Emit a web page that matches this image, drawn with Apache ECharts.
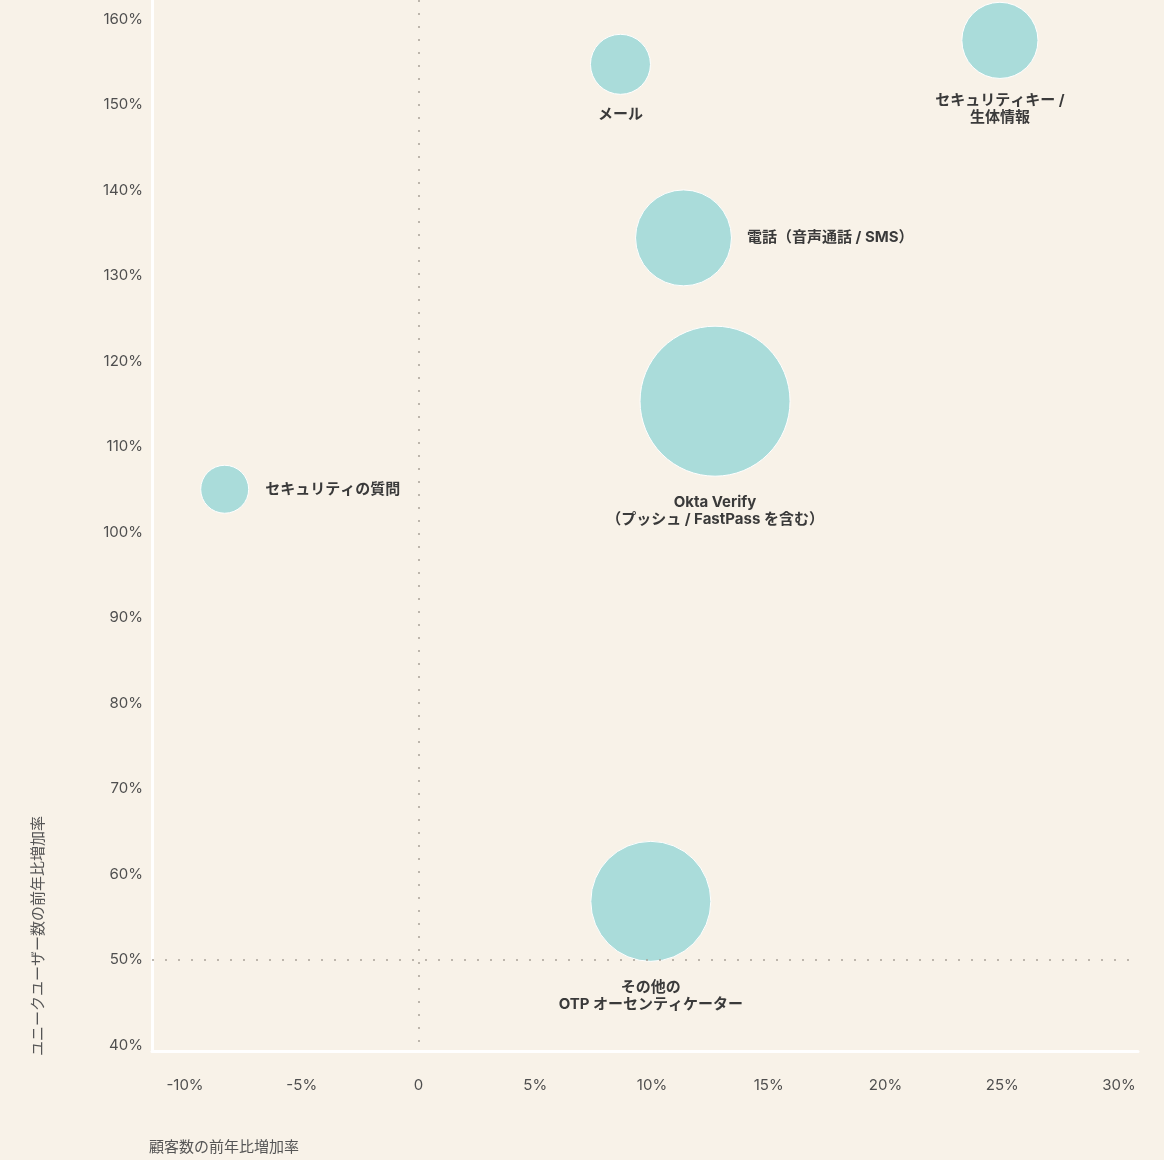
<!DOCTYPE html>
<html>
<head>
<meta charset="utf-8">
<script src="https://cdn.jsdelivr.net/npm/echarts@6/dist/echarts.min.js"></script>
<style>
html,body{margin:0;padding:0;background:#F8F2E8;}
#chart{width:1164px;height:1160px;}
</style>
</head>
<body>
<div id="chart"></div>
<script>
// ---- data ----
const names = [
  'セキュリティの質問',
  'メール',
  'セキュリティキー /\n生体情報',
  '電話（音声通話 / SMS）',
  'Okta Verify\n（プッシュ / FastPass を含む）',
  'その他の\nOTP オーセンティケーター'
];
const customerGrowth = [-8.3, 8.65, 24.9, 11.35, 12.7, 9.95];   // x, %
const userGrowth = [105.0, 154.7, 157.5, 134.4, 115.3, 56.8];    // y, %
const bubbleSize = [23, 36, 58, 92, 225, 144];                   // relative area
const xTicks = [-10, -5, 0, 5, 10, 15, 20, 25, 30];
const yTicks = [40, 50, 60, 70, 80, 90, 100, 110, 120, 130, 140, 150, 160];

const labelPlacement = {
  'セキュリティの質問': {position: 'right', distance: 16, align: 'left', verticalAlign: 'middle', offset: [0, -5]},
  'メール': {position: 'bottom', distance: 11},
  'セキュリティキー /\n生体情報': {position: 'bottom', distance: 13, offset: [4, 0]},
  '電話（音声通話 / SMS）': {position: 'right', distance: 15, align: 'left', verticalAlign: 'middle', offset: [0, -4]},
  'Okta Verify\n（プッシュ / FastPass を含む）': {position: 'bottom', distance: 17, offset: [3, 0]},
  'その他の\nOTP オーセンティケーター': {position: 'bottom', distance: 17, offset: [2, 0]}
};

const seriesData = names.map((n, i) => ({
  name: n,
  value: [customerGrowth[i], userGrowth[i], bubbleSize[i]],
  label: labelPlacement[n]
}));

const FONT = "Inter, 'Noto Sans CJK JP', sans-serif";
const chart = echarts.init(document.getElementById('chart'));
chart.setOption({
  backgroundColor: '#F8F2E8',
  animation: false,
  grid: {left: 152, right: 26, top: 0, bottom: 109, containLabel: false},
  xAxis: {
    type: 'value',
    min: -11.413, max: 30.814,
    splitLine: {show: false},
    axisTick: {show: false},
    axisLine: {show: true, lineStyle: {color: '#ffffff', width: 3}},
    axisLabel: {
      customValues: xTicks,
      margin: 27,
      color: '#4f4f4f',
      fontSize: 15,
      fontFamily: FONT,
      formatter: v => (v === 0 ? '0' : v + '%')
    }
  },
  yAxis: {
    type: 'value',
    min: 39.298, max: 162.222,
    splitLine: {show: false},
    axisTick: {show: false},
    axisLine: {show: true, onZero: false, lineStyle: {color: '#ffffff', width: 3}},
    axisLabel: {
      customValues: yTicks,
      margin: 9,
      color: '#4f4f4f',
      fontSize: 15,
      fontFamily: FONT,
      formatter: v => v + '%'
    }
  },
  graphic: [
    {
      type: 'text', x: 38, y: 1056, rotation: Math.PI / 2,
      style: {text: 'ユニークユーザー数の前年比増加率', fill: '#555', fontSize: 15,
        fontFamily: FONT, align: 'left', verticalAlign: 'middle'}
    },
    {
      type: 'text', x: 149, y: 1147,
      style: {text: '顧客数の前年比増加率', fill: '#555', fontSize: 15,
        fontFamily: FONT, align: 'left', verticalAlign: 'middle'}
    }
  ],
  series: [{
    type: 'scatter',
    data: seriesData,
    symbolSize: v => Math.sqrt(v[2]) * 10,
    itemStyle: {color: '#AADCDA', borderColor: '#ffffff', borderWidth: 1, opacity: 1},
    label: {
      show: true,
      formatter: p => p.name,
      color: '#3a3a3a',
      fontSize: 15,
      fontWeight: 'bold',
      lineHeight: 17,
      fontFamily: FONT,
      align: 'center'
    },
    labelLayout: {hideOverlap: false},
    markLine: {
      silent: true,
      symbol: 'none',
      label: {show: false},
      lineStyle: {color: '#a9a398', width: 1.5, type: [2, 11]},
      data: [
        [{coord: [0, 162.222]}, {coord: [0, 39.5]}],
        {yAxis: 50}
      ]
    },
    z: 3
  }]
});
</script>
</body>
</html>
